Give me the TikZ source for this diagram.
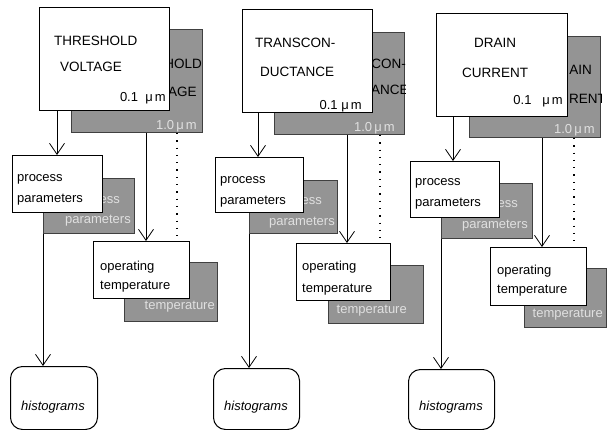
\documentclass[tikz,border=0pt]{standalone}
\usepackage{fontspec}
\setmainfont{Liberation Sans}
\usetikzlibrary{arrows.meta}
\begin{document}
\begin{tikzpicture}[x=1pt,y=-1pt,
  frontbox/.style={draw, line width=1pt, fill=white, anchor=north west, inner sep=0pt},
  backbox/.style={draw=black!75, line width=1pt, fill=black!42, anchor=north west, inner sep=0pt},
  hist/.style={draw, line width=1pt, rounded corners=12pt, anchor=north west, inner sep=0pt},
  lbl/.style={font=\fontsize{13}{15}\selectfont, inner sep=0pt},
  caps/.style={font=\fontsize{13.5}{15}\selectfont, inner sep=0pt},
  blbl/.style={lbl, text=black!12},
  bcaps/.style={caps, text=black},
  histlbl/.style={font=\fontsize{13}{15}\selectfont\itshape, inner sep=0pt, anchor=base},
  arr/.style={line width=0.8pt, -{Straight Barb[length=11pt,width=15pt]}},
  dotline/.style={line width=1.3pt, dash pattern=on 1.3pt off 6pt}
]
\useasboundingbox (0,0) rectangle (610,430);

% ================= column 1 =================
\node[backbox, minimum width=131pt, minimum height=103pt] (tb1) at (71,29) {};
\begin{scope}
  \clip (tb1.south west) rectangle (tb1.north east);
  \node[bcaps, anchor=base east] (tb1a) at (202,69) {HOLD};
  \node[bcaps, anchor=base west] (tb1b) at (168,97) {AGE};
  \node[blbl, anchor=base east] (tb1c) at (197,130) {1.0\,μ\,m};
\end{scope}
\node[frontbox, minimum width=130pt, minimum height=103pt] (tf1) at (39,7) {};
\node[caps, anchor=base west] (tf1a) at (54,46) {THRESHOLD};
\node[caps, anchor=base west] (tf1b) at (60,72) {VOLTAGE};
\node[lbl, anchor=base east] (tf1c) at (166,102) {0.1~~μ\,m};

\node[backbox, minimum width=91pt, minimum height=55pt] (pb1) at (43,178) {};
\begin{scope}
  \clip (pb1.south west) rectangle (pb1.north east);
  \node[blbl, anchor=base east] (pb1a) at (120,204) {ess};
  \node[blbl, anchor=base east] (pb1b) at (131,224) {parameters};
\end{scope}
\node[frontbox, minimum width=90pt, minimum height=57pt] (pf1) at (12,155) {};
\node[lbl, anchor=base west] (pf1a) at (17,182) {process};
\node[lbl, anchor=base west] (pf1b) at (17,203) {parameters};

\node[backbox, minimum width=93pt, minimum height=59pt] (ob1) at (124,262) {};
\begin{scope}
  \clip (ob1.south west) rectangle (ob1.north east);
  \node[blbl, anchor=base east] (ob1a) at (215,309) {temperature};
\end{scope}
\node[frontbox, minimum width=96pt, minimum height=57pt] (of1) at (93,241) {};
\node[lbl, anchor=base west] (of1a) at (100,271) {operating};
\node[lbl, anchor=base west] (of1b) at (100,290) {temperature};

\node[hist, minimum width=87pt, minimum height=63pt] (h1) at (10,366) {};
\node[histlbl] (h1t) at (53,410) {histograms};

\coordinate (c1a) at (57,0);
\coordinate (c1b) at (146,0);
\coordinate (c1c) at (177,0);
\draw[arr] (c1a |- tf1.south) -- (c1a |- pf1.north);
\draw[arr] (c1b |- tb1.south) -- (c1b |- of1.north);
\draw[dotline] (c1c |- tb1.south) -- (c1c |- of1.north);
\draw[arr] (pb1.south west) -- (pb1.south west |- h1.north);

% ================= column 2 =================
\node[backbox, minimum width=130pt, minimum height=102pt] (tb2) at (274,32) {};
\begin{scope}
  \clip (tb2.south west) rectangle (tb2.north east);
  \node[bcaps, anchor=base east] (tb2a) at (406,69) {SCON-};
  \node[bcaps, anchor=base west] (tb2b) at (371,95) {ANCE};
  \node[blbl, anchor=base east] (tb2c) at (395,132) {1.0\,μ\,m};
\end{scope}
\node[frontbox, minimum width=130pt, minimum height=103pt] (tf2) at (242,9) {};
\node[caps, anchor=base west] (tf2a) at (255,48) {TRANSCON-};
\node[caps, anchor=base west] (tf2b) at (260,77) {DUCTANCE};
\node[lbl, anchor=base east] (tf2c) at (362,110) {0.1~μ\,m};

\node[backbox, minimum width=88pt, minimum height=53pt] (pb2) at (249,180) {};
\begin{scope}
  \clip (pb2.south west) rectangle (pb2.north east);
  \node[blbl, anchor=base east] (pb2a) at (322,205) {ess};
  \node[blbl, anchor=base east] (pb2b) at (335,226) {parameters};
\end{scope}
\node[frontbox, minimum width=88pt, minimum height=55pt] (pf2) at (215,157) {};
\node[lbl, anchor=base west] (pf2a) at (220,184) {process};
\node[lbl, anchor=base west] (pf2b) at (220,205) {parameters};

\node[backbox, minimum width=95pt, minimum height=58pt] (ob2) at (328,265) {};
\begin{scope}
  \clip (ob2.south west) rectangle (ob2.north east);
  \node[blbl, anchor=base east] (ob2a) at (407,313) {temperature};
\end{scope}
\node[frontbox, minimum width=94pt, minimum height=57pt] (of2) at (296,243) {};
\node[lbl, anchor=base west] (of2a) at (302,271) {operating};
\node[lbl, anchor=base west] (of2b) at (302,292) {temperature};

\node[hist, minimum width=86pt, minimum height=61pt] (h2) at (213,368) {};
\node[histlbl] (h2t) at (256,410) {histograms};

\coordinate (c2a) at (258,0);
\coordinate (c2b) at (347,0);
\coordinate (c2c) at (380,0);
\draw[arr] (c2a |- tf2.south) -- (c2a |- pf2.north);
\draw[arr] (c2b |- tb2.south) -- (c2b |- of2.north);
\draw[dotline] (c2c |- tb2.south) -- (c2c |- of2.north);
\draw[arr] (pb2.south west) -- (pb2.south west |- h2.north);

% ================= column 3 =================
\node[backbox, minimum width=131pt, minimum height=101pt] (tb3) at (469,36) {};
\begin{scope}
  \clip (tb3.south west) rectangle (tb3.north east);
  \node[bcaps, anchor=base east] (tb3a) at (592,75) {AIN};
  \node[bcaps, anchor=base east] (tb3b) at (606,104) {RENT};
  \node[blbl, anchor=base east] (tb3c) at (595,134) {1.0\,μ\,m};
\end{scope}
\node[frontbox, minimum width=131pt, minimum height=103pt] (tf3) at (436,13) {};
\node[caps, anchor=base west] (tf3a) at (474,48) {DRAIN};
\node[caps, anchor=base west] (tf3b) at (462,78) {CURRENT};
\node[lbl, anchor=base east] (tf3c) at (563,105) {0.1~~~μ\,m};

\node[backbox, minimum width=91pt, minimum height=55pt] (pb3) at (441,183) {};
\begin{scope}
  \clip (pb3.south west) rectangle (pb3.north east);
  \node[blbl, anchor=base east] (pb3a) at (518,208) {ess};
  \node[blbl, anchor=base east] (pb3b) at (528,229) {parameters};
\end{scope}
\node[frontbox, minimum width=89pt, minimum height=56pt] (pf3) at (410,161) {};
\node[lbl, anchor=base west] (pf3a) at (415,186) {process};
\node[lbl, anchor=base west] (pf3b) at (415,207) {parameters};

\node[backbox, minimum width=82pt, minimum height=59pt] (ob3) at (524,268) {};
\begin{scope}
  \clip (ob3.south west) rectangle (ob3.north east);
  \node[blbl, anchor=base east] (ob3a) at (603,317) {temperature};
\end{scope}
\node[frontbox, minimum width=96pt, minimum height=58pt] (of3) at (490,247) {};
\node[lbl, anchor=base west] (of3a) at (497,275) {operating};
\node[lbl, anchor=base west] (of3b) at (497,294) {temperature};

\node[hist, minimum width=86pt, minimum height=60pt] (h3) at (408,369) {};
\node[histlbl] (h3t) at (451,410) {histograms};

\coordinate (c3a) at (453,0);
\coordinate (c3b) at (542,0);
\coordinate (c3c) at (574,0);
\draw[arr] (c3a |- tf3.south) -- (c3a |- pf3.north);
\draw[arr] (c3b |- tb3.south) -- (c3b |- of3.north);
\draw[dotline] (c3c |- tb3.south) -- (c3c |- of3.north);
\draw[arr] (pb3.south west) -- (pb3.south west |- h3.north);

\end{tikzpicture}
\end{document}
